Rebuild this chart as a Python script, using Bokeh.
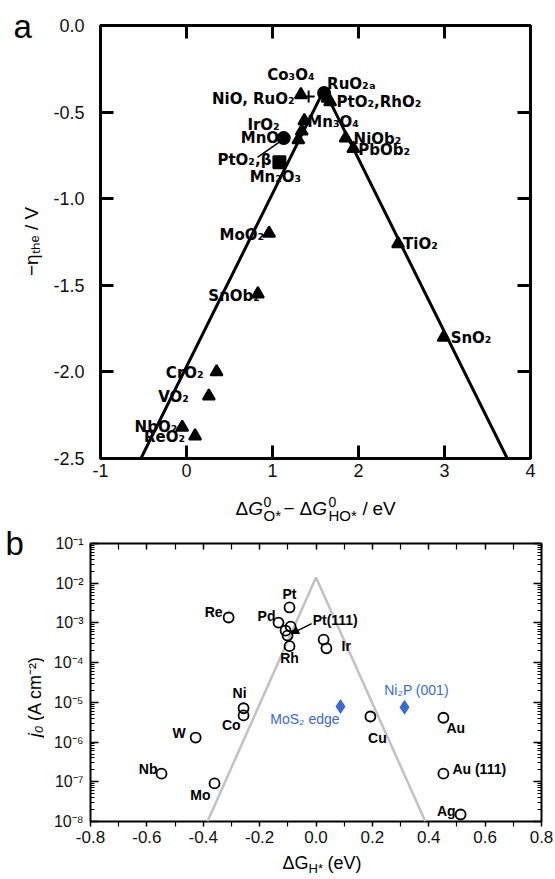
import math
from bokeh.plotting import figure
from bokeh.models import (ColumnDataSource, FixedTicker, PrintfTickFormatter,
                          CustomJSTickFormatter, LinearAxis, LogAxis,
                          Arrow, NormalHead, Range1d)
from bokeh.layouts import column, row
from bokeh.core.properties import value
from bokeh.embed import file_html
from bokeh.resources import INLINE

# ================= panel a : oxide OER volcano =================
oxide_dG = [1.33, 1.42, 1.60, 1.64, 1.67, 1.37, 1.34, 1.30, 1.13, 1.08,
            1.85, 1.94, 0.96, 0.83, 2.46, 2.99, 0.35, 0.26, -0.05, 0.10]
oxide_eta = [-0.40, -0.41, -0.39, -0.42, -0.44, -0.55, -0.61, -0.66, -0.65, -0.79,
             -0.65, -0.71, -1.20, -1.55, -1.26, -1.80, -2.00, -2.14, -2.32, -2.37]
oxide_marker = ["triangle", "cross", "circle", "triangle", "triangle", "triangle",
                "triangle", "triangle", "circle", "square", "triangle", "triangle",
                "triangle", "triangle", "triangle", "triangle", "triangle",
                "triangle", "triangle", "triangle"]
volcano_a_dG = [-0.53, 1.60, 3.73]
volcano_a_eta = [-2.5, -0.37, -2.5]
a_xticks = [-1, 0, 1, 2, 3, 4]
a_yticks = [-2.5, -2.0, -1.5, -1.0, -0.5, 0.0]

a_label_text = ["Co₃O₄", "NiO, RuO₂", "RuO₂ₐ", "PtO₂,RhO₂", "Mn₃O₄", "IrO₂", "MnO₂",
                "PtO₂,β", "Mn₂O₃", "NiOb₂", "PbOb₂", "MoO₂", "SnOb₂", "TiO₂", "SnO₂",
                "CrO₂", "VO₂", "NbO₂", "ReO₂"]
a_label_point = [0, 1, 2, 3, 5, 8, 8, 9, 9, 10, 11, 12, 13, 14, 15, 16, 17, 18, 19]

# label placement (pixel offsets from the point, alignment)
a_label_dx = [-10, -14, 3, 9, 3, -4, 2, -8, -4, 8, 5, -5, 2, 5, 7, -13, -20, -5, -10]
a_label_dy = [-20, 2, -9, 4, 1, -13, 0, -2, 15, 1, 2, 2, 2, 0, 1, 1, 1, 0, 1]
a_label_align = ["center", "right", "left", "left", "left", "right", "right", "right",
                 "center", "left", "left", "right", "right", "left", "left", "right",
                 "right", "right", "right"]

# ================= panel b : HER volcano =================
metal_name = ["Re", "Pt", "Pd", "Pt(111)", "Pt(111)", "Pt(111)", "Rh", "Ir", "Ir", "Ni",
              "Co", "W", "Nb", "Mo", "Cu", "Au", "Au (111)", "Ag"]
metal_dGH = [-0.310, -0.094, -0.133, -0.090, -0.108, -0.101, -0.094, 0.027, 0.037, -0.257,
             -0.257, -0.427, -0.548, -0.360, 0.193, 0.452, 0.452, 0.513]
metal_j0 = [1.37e-3, 2.45e-3, 1.02e-3, 8.1e-4, 6.4e-4, 4.8e-4, 2.6e-4, 3.8e-4, 2.3e-4, 7.1e-6,
            4.7e-6, 1.3e-6, 1.6e-7, 9.1e-8, 4.4e-6, 4.1e-6, 1.6e-7, 1.5e-8]
cat_name = ["MoS₂ edge", "Ni₂P (001)"]
cat_dGH = [0.087, 0.314]
cat_j0 = [7.9e-6, 7.5e-6]
volcano_b_dGH = [-0.385, 0.0, 0.388]
volcano_b_j0 = [1e-8, 1.4e-2, 1e-8]
b_xticks = [-0.8, -0.6, -0.4, -0.2, 0.0, 0.2, 0.4, 0.6, 0.8]
b_xminor = [-0.7, -0.5, -0.3, -0.1, 0.1, 0.3, 0.5, 0.7]
b_exponents = [-8, -7, -6, -5, -4, -3, -2, -1]

b_label_text = ["Re", "Pt", "Pd", "Pt(111)", "Rh", "Ir", "Ni", "Co", "W", "Nb", "Mo",
                "Cu", "Au", "Au (111)", "Ag"]
b_label_point = [0, 1, 2, 3, 6, 7, 9, 10, 11, 12, 13, 14, 15, 16, 17]
b_label_dx = [-6, 0, -3, 22, 0, 18, -4, -3, -10, -4, -4, 7, 3, 9, -5]
b_label_dy = [-5, -13, -7, -7, 12, 6, -15, 10, -5, -5, 12, 21, 10, -5, -4]
b_label_align = ["right", "center", "right", "left", "center", "left", "center", "right",
                 "right", "right", "right", "center", "left", "left", "right"]
cat_label_dx = [-1, 12]
cat_label_dy = [13, -17]
cat_label_align = ["right", "center"]

BLUE = "#3a6ad6"


# ---------- pixel <-> data helpers (frame geometry) ----------
def a_xpx(x):
    return 98 + (x + 1) * 86.4


def a_ypx(y):
    return 25 - y * 173.2


def a_x(px):
    return -1 + (px - 98) / 86.4


def a_y(py):
    return -(py - 25) / 173.2


def b_xpx(x):
    return 90 + (x + 0.8) * 281.875


def b_ypx(y):
    return 543 + (-1 - math.log10(y)) * 39.714


def b_x(px):
    return -0.8 + (px - 90) / 281.875


def b_y(py):
    return 10 ** (-1 - (py - 543) / 39.714)


def add_labels(p, xs, ys, texts, idxs, dxs, dys, aligns, font, size, style, color):
    for al in ("left", "right", "center"):
        sel = [k for k in range(len(texts)) if aligns[k] == al]
        if not sel:
            continue
        src = ColumnDataSource(dict(
            x=[xs[idxs[k]] for k in sel], y=[ys[idxs[k]] for k in sel],
            t=[texts[k] for k in sel], dx=[dxs[k] for k in sel], dy=[dys[k] for k in sel]))
        p.text(x="x", y="y", text="t", x_offset="dx", y_offset="dy", source=src,
               text_align=al, text_baseline="middle", text_font=value(font),
               text_font_size=size, text_font_style=style, text_color=color)


class Strip:
    """A blank figure whose frame is its whole canvas; texts placed in page pixels."""

    def __init__(self, left, top, w, h):
        self.left, self.top, self.h = left, top, h
        f = figure(width=w, height=h, x_range=Range1d(0, w), y_range=Range1d(0, h),
                   output_backend="svg", toolbar_location=None, min_border=0,
                   x_axis_location=None, y_axis_location=None, frame_align=False,
                   title=None)
        f.grid.visible = False
        f.outline_line_color = None
        f.background_fill_color = "white"
        f.border_fill_color = "white"
        self.fig = f

    def text(self, px, base, t, size, style="normal", font="Liberation Sans",
             align="left", angle=0.0, centred=False):
        # 'base' is the alphabetic baseline in page pixels (or the centre if centred)
        py = base if centred else base - 0.35 * size
        self.fig.text(x=[px - self.left], y=[self.h - (py - self.top)], text=[t],
                      text_font=value(font), text_font_size=f"{size}px",
                      text_font_style=style, text_align=align, text_baseline="middle",
                      angle=angle, text_color="black")


EMPTY = CustomJSTickFormatter(code="return ''")

# ---------------- layout geometry (page pixels) ----------------
A_TOP, A_H = 0, 486          # row with panel a
TA_TOP, TA_H = 486, 38       # x title of panel a
B_TOP, B_H = 524, 327        # row with panel b
TB_TOP, TB_H = 851, 26       # x title of panel b
LA_W, LB_W, TOT_W = 50, 44, 554

# ======================= figure a =======================
pa = figure(width=TOT_W - LA_W, height=A_H, x_range=Range1d(-1, 4), y_range=Range1d(-2.5, 0),
            output_backend="svg", toolbar_location=None, frame_align=False, title=None,
            min_border_left=98 - LA_W, min_border_right=TOT_W - 530,
            min_border_top=25 - A_TOP, min_border_bottom=A_TOP + A_H - 458)
pa.grid.visible = False
pa.outline_line_color = "black"
pa.outline_line_width = 3
pa.background_fill_color = "white"
pa.border_fill_color = "white"

ax_b = pa.below[0]
ax_l = pa.left[0]
ax_b.ticker = FixedTicker(ticks=a_xticks, minor_ticks=[])
ax_b.formatter = PrintfTickFormatter(format="%d")
ax_l.ticker = FixedTicker(ticks=a_yticks, minor_ticks=[])
ax_l.formatter = PrintfTickFormatter(format="%.1f")
ax_t = LinearAxis(ticker=FixedTicker(ticks=a_xticks, minor_ticks=[]), formatter=EMPTY)
ax_r = LinearAxis(ticker=FixedTicker(ticks=a_yticks, minor_ticks=[]), formatter=EMPTY)
pa.add_layout(ax_t, "above")
pa.add_layout(ax_r, "right")
for ax in (ax_b, ax_l, ax_t, ax_r):
    ax.axis_line_color = None
    ax.major_tick_in = 13
    ax.major_tick_out = 0
    ax.minor_tick_in = 0
    ax.minor_tick_out = 0
    ax.major_tick_line_width = 3
    ax.major_tick_line_color = "black"
    ax.major_label_text_font = "Liberation Sans"
    ax.major_label_text_font_size = "18px"
    ax.major_label_text_color = "#111111"
for ax in (ax_t, ax_r):
    ax.major_label_standoff = 0
ax_b.major_label_standoff = 5
ax_l.major_label_standoff = 16

pa.line(volcano_a_dG, volcano_a_eta, line_color="black", line_width=3)
src_a = ColumnDataSource(dict(x=oxide_dG, y=oxide_eta, m=oxide_marker))
pa.scatter(x="x", y="y", marker="m", source=src_a, size=12, fill_color="black",
           line_color="black", line_width=2)

# leader line from the PtO2,beta label to the circle
lx0, ly0 = a_xpx(oxide_dG[9]) - 22, a_ypx(oxide_eta[9]) - 5
lx1, ly1 = a_xpx(oxide_dG[8]) - 3, a_ypx(oxide_eta[8]) + 3
pa.line([a_x(lx0), a_x(lx1)], [a_y(ly0), a_y(ly1)], line_color="black", line_width=1.5)

add_labels(pa, oxide_dG, oxide_eta, a_label_text, a_label_point, a_label_dx, a_label_dy,
           a_label_align, "DejaVu Sans", "15px", "bold", "black")

# left strip of panel a : letter and y title
la = Strip(0, A_TOP, LA_W, A_H)
la.text(13, 38, "a", 33)
la.text(31, 241, "−ηₜₕₑ / V", 19, align="center", angle=math.pi / 2, centred=True)

# x title of panel a
ta = Strip(0, TA_TOP, TOT_W, TA_H)
BL = 515
ta.text(235, BL, "Δ", 19)
ta.text(247.7, BL, "G", 19, "italic")
ta.text(263, BL - 9, "0", 14)
ta.text(263, BL + 5, "O*", 15)
ta.text(283, BL, "−", 19)
ta.text(299, BL, "Δ", 19)
ta.text(311.7, BL, "G", 19, "italic")
ta.text(328, BL - 9, "0", 14)
ta.text(328, BL + 5, "HO*", 15)
ta.text(362, BL, "/", 19)
ta.text(372, BL, "eV", 19)

# ======================= figure b =======================
pb = figure(width=TOT_W - LB_W, height=B_H, x_range=Range1d(-0.8, 0.8),
            y_range=Range1d(1e-8, 1e-1), y_axis_type="log", output_backend="svg",
            toolbar_location=None, frame_align=False, title=None,
            min_border_left=90 - LB_W, min_border_right=TOT_W - 541,
            min_border_top=543 - B_TOP, min_border_bottom=B_TOP + B_H - 821)
pb.grid.visible = False
pb.outline_line_color = "black"
pb.outline_line_width = 2
pb.background_fill_color = "white"
pb.border_fill_color = "white"

majors = [10.0 ** e for e in b_exponents]
minors = [m * 10.0 ** e for e in b_exponents[:-1] for m in range(2, 10)]
sup_fmt = CustomJSTickFormatter(code="""
const sup = {"-":"⁻","0":"⁰","1":"¹","2":"²","3":"³","4":"⁴","5":"⁵","6":"⁶","7":"⁷","8":"⁸","9":"⁹"};
const e = Math.round(Math.log10(tick));
return "10" + String(e).split("").map(c => sup[c]).join("");
""")
bx_b = pb.below[0]
by_l = pb.left[0]
bx_b.ticker = FixedTicker(ticks=b_xticks, minor_ticks=b_xminor)
bx_b.formatter = PrintfTickFormatter(format="%.1f")
by_l.ticker = FixedTicker(ticks=majors, minor_ticks=minors)
by_l.formatter = sup_fmt
bx_t = LinearAxis(ticker=FixedTicker(ticks=b_xticks, minor_ticks=b_xminor), formatter=EMPTY)
by_r = LogAxis(ticker=FixedTicker(ticks=majors, minor_ticks=minors), formatter=EMPTY)
pb.add_layout(bx_t, "above")
pb.add_layout(by_r, "right")
for ax in (bx_b, by_l, bx_t, by_r):
    ax.axis_line_color = None
    ax.major_tick_line_width = 1.5
    ax.minor_tick_line_width = 1.2
    ax.major_tick_line_color = "black"
    ax.minor_tick_line_color = "black"
    ax.major_label_text_font = "Liberation Sans"
    ax.major_label_text_font_size = "17px"
    ax.major_label_text_color = "#111111"
bx_b.major_tick_in, bx_b.major_tick_out = 0, 5
bx_b.minor_tick_in, bx_b.minor_tick_out = 0, 5
bx_t.major_tick_in, bx_t.major_tick_out = 6, 0
bx_t.minor_tick_in, bx_t.minor_tick_out = 6, 0
for ax in (by_l, by_r):
    ax.major_tick_in, ax.major_tick_out = 8, 0
    ax.minor_tick_in, ax.minor_tick_out = 4, 0
for ax in (bx_t, by_r):
    ax.major_label_standoff = 0
bx_b.major_label_standoff = 4
by_l.major_label_standoff = 7
by_l.major_label_text_font_size = "16px"

pb.line(volcano_b_dGH, volcano_b_j0, line_color="#c2c2c2", line_width=2.5)
pb.scatter(metal_dGH, metal_j0, marker="circle", size=10, fill_color=None,
           line_color="black", line_width=1.8)
pb.scatter(cat_dGH, cat_j0, marker="diamond", size=15, fill_color=BLUE, line_color=None)

# arrow pointing at Pt(111)
ptx, pty = b_xpx(metal_dGH[3]), b_ypx(metal_j0[3])
pb.add_layout(Arrow(end=NormalHead(size=7, fill_color="black", line_color="black"),
                    x_start=b_x(ptx + 21), y_start=b_y(pty - 3),
                    x_end=b_x(ptx + 1), y_end=b_y(pty + 7),
                    line_color="black", line_width=1.5))

add_labels(pb, metal_dGH, metal_j0, b_label_text, b_label_point, b_label_dx, b_label_dy,
           b_label_align, "Liberation Sans", "14px", "bold", "black")
add_labels(pb, cat_dGH, cat_j0, cat_name, [0, 1], cat_label_dx, cat_label_dy,
           cat_label_align, "Liberation Sans", "14px", "normal", BLUE)

# left strip of panel b : letter and y title
lb = Strip(0, B_TOP, LB_W, B_H)
lb.text(5, 555, "b", 33)
lb.text(34, 731, "j₀", 18, "italic", align="center", angle=math.pi / 2, centred=True)
lb.text(34, 688, "(A cm⁻²)", 18, align="center", angle=math.pi / 2, centred=True)

# x title of panel b
tb = Strip(0, TB_TOP, TOT_W, TB_H)
BB = 869
tb.text(282, BB, "ΔG", 18)
tb.text(308, BB + 4, "H*", 13)
tb.text(327, BB, "(eV)", 18)

layout = column(row(la.fig, pa, spacing=0), ta.fig, row(lb.fig, pb, spacing=0), tb.fig,
                spacing=0)
open("out.html", "w").write(file_html(layout, INLINE))
